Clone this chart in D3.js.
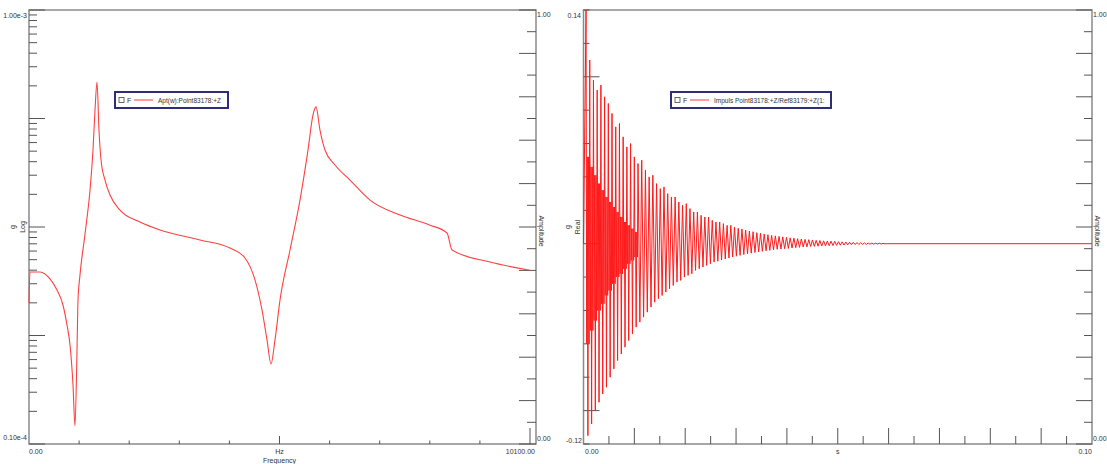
<!DOCTYPE html>
<html>
<head>
<meta charset="utf-8">
<script src="https://cdn.jsdelivr.net/npm/d3@7"></script>
<style>
  body { margin: 0; background: #fff; }
  text { font-family: "Liberation Sans", Arial, sans-serif; font-size: 7px; fill: #333; }
</style>
</head>
<body>
<div id="chart"></div>
<script>
const width = 1107, height = 464;

// FRF amplitude (left panel)
const freqHz = [0, 20, 222, 423, 564, 685, 766, 827, 887, 927, 968, 988, 1028, 1129, 1230, 1290, 1331, 1371, 1411, 1452, 1532, 1633, 1835, 2238, 2641, 3447, 4052, 4355, 4556, 4697, 4798, 4879, 4959, 5060, 5262, 5463, 5625, 5725, 5786, 5866, 5967, 6169, 6471, 6875, 7479, 8084, 8427, 8528, 9294, 10100];
const aptAmp = [2.0e-6, 3.85e-6, 3.85e-6, 3.32e-6, 2.62e-6, 1.91e-6, 1.25e-6, 8.17e-7, 3.5e-7, 1.47e-7, 7.4e-7, 2.12e-6, 3.6e-6, 8.6e-6, 2.19e-5, 5.13e-5, 1.20e-4, 2.17e-4, 7.83e-5, 4.15e-5, 2.71e-5, 1.97e-5, 1.43e-5, 1.11e-5, 9.38e-6, 7.6e-6, 6.40e-6, 5.18e-6, 3.25e-6, 1.72e-6, 9.1e-7, 5.46e-7, 9.1e-7, 2.12e-6, 6.14e-6, 1.77e-5, 5.13e-5, 1.08e-4, 1.28e-4, 7.83e-5, 5.13e-5, 3.73e-5, 2.71e-5, 1.77e-5, 1.29e-5, 1.04e-5, 8.8e-6, 6.14e-6, 4.75e-6, 4.0e-6];

// impulse response (right panel): peak / trough of each cycle, g
const impulseStart = 0.0005; // s
const cyclePeriod = 0.00073; // s
const impulseHigh = [0.140, 0.110, 0.098, 0.092, 0.095, 0.088, 0.084, 0.078, 0.070, 0.072, 0.064, 0.058, 0.060, 0.052, 0.048, 0.050, 0.044, 0.040, 0.041, 0.036, 0.033, 0.034, 0.030, 0.028, 0.028, 0.025, 0.023, 0.024, 0.021, 0.019, 0.019, 0.017, 0.016, 0.016, 0.014, 0.013, 0.013, 0.012, 0.011, 0.011, 0.010, 0.0092, 0.0088, 0.0082, 0.0076, 0.0072, 0.0066, 0.0062, 0.0058, 0.0054, 0.0050, 0.0047, 0.0044, 0.0041, 0.0038, 0.0035, 0.0033, 0.0030, 0.0028, 0.0026, 0.0024, 0.0022, 0.0020, 0.0019, 0.0017, 0.0016, 0.0015, 0.0014, 0.0012, 0.0011, 0.0010, 0.0009, 0.0008, 0.0007, 0.0006, 0.0005, 0.0004, 0.0004, 0.0003, 0.0003, 0.0002];
const impulseLow = [-0.115, -0.108, -0.100, -0.095, -0.090, -0.086, -0.080, -0.075, -0.070, -0.066, -0.062, -0.058, -0.054, -0.050, -0.047, -0.044, -0.041, -0.038, -0.035, -0.033, -0.031, -0.029, -0.027, -0.025, -0.023, -0.022, -0.020, -0.019, -0.018, -0.016, -0.015, -0.014, -0.013, -0.012, -0.011, -0.0105, -0.0098, -0.0092, -0.0086, -0.0080, -0.0075, -0.0070, -0.0065, -0.0061, -0.0057, -0.0053, -0.0049, -0.0046, -0.0043, -0.0040, -0.0037, -0.0034, -0.0032, -0.0030, -0.0028, -0.0026, -0.0024, -0.0022, -0.0020, -0.0019, -0.0017, -0.0016, -0.0015, -0.0014, -0.0013, -0.0012, -0.0011, -0.0010, -0.0009, -0.0008, -0.0007, -0.0006, -0.0005, -0.0005, -0.0004, -0.0004, -0.0003, -0.0003, -0.0002, -0.0002, -0.0001];
// faster second-mode wiggles inside the first cycles (dense part near t = 0)
const impulseMidDown = [-0.060, -0.052, -0.046, -0.040, -0.036, -0.031, -0.028, -0.024, -0.020, -0.018, -0.015, -0.012, -0.010, -0.008];
const impulseMidUp = [0.052, 0.046, 0.041, 0.036, 0.032, 0.028, 0.025, 0.022, 0.019, 0.016, 0.013, 0.011, 0.009, 0.007];
const timeEnd = 0.1;

const legendLeft = "Apt(w):Point83178:+Z";
const legendRight = "Impuls Point83178:+Z/Ref83179:+Z(1:";

const svg = d3.select("#chart").append("svg").attr("width", width).attr("height", height);

const plotTop = 10, plotBottom = 444;
const axisColor = "#8a8a8a", tickColor = "#555";

// scales
const xF = d3.scaleLinear().domain([0, 10100]).range([29, 530]);
const yL = d3.scaleLog().domain([1e-7, 1e-3]).range([plotBottom, plotTop]);
const xT = d3.scaleLinear().domain([0, 0.1]).range([583.5, 1092]);
const yR = d3.scaleLinear().domain([-0.12, 0.14]).range([plotBottom, plotTop]);
const yA = d3.scaleLinear().domain([0, 1]).range([plotBottom, plotTop]);

function frame(x0, x1) {
    svg.append("rect")
        .attr("x", x0).attr("y", plotTop)
        .attr("width", x1 - x0).attr("height", plotBottom - plotTop)
        .attr("fill", "none").attr("stroke", axisColor).attr("stroke-width", 1.5);
}

function tick(x1, y1, x2, y2) {
    svg.append("line")
        .attr("x1", x1).attr("y1", y1).attr("x2", x2).attr("y2", y2)
        .attr("stroke", tickColor).attr("stroke-width", 1);
}

function label(x, y, txt, anchor, rot) {
    const t = svg.append("text").attr("text-anchor", anchor || "start").text(txt);
    if (rot) t.attr("transform", `translate(${x},${y}) rotate(${rot})`);
    else t.attr("x", x).attr("y", y);
    return t;
}

// ---------- left panel ----------
frame(29, 536);

// log ticks on left axis
yL.ticks().forEach(v => {
    const decade = Math.abs(Math.log10(v) - Math.round(Math.log10(v))) < 1e-9;
    tick(29, yL(v), 29 + (decade ? 16 : 8), yL(v));
});

// amplitude (right) axis ticks
d3.range(0, 21).forEach(i => {
    const v = i / 20;
    tick(536, yA(v), 536 - (i % 2 === 0 ? 17 : 9), yA(v));
});

// frequency ticks
d3.range(1, 11).forEach(i => {
    const v = i * 1010;
    const len = (i === 5 || i === 10) ? (i === 10 ? 16 : 8) : 3.5;
    tick(xF(v), plotBottom, xF(v), plotBottom - len);
});

label(27, 18, "1.00e-3", "end");
label(27, 440, "0.10e-4", "end");
label(15, 227, "g", "middle", -90);
label(25, 227, "Log", "middle", -90);
label(537, 17, "1.00");
label(537, 441, "0.00");
label(539, 231, "Amplitude", "middle", 90);
label(29, 454, "0.00");
label(xF(5050), 454, "Hz", "middle");
label(xF(5050), 463, "Frequency", "middle");
label(535, 454, "10100.00", "end");

const lineL = d3.line().curve(d3.curveMonotoneX).x(d => xF(d[0])).y(d => yL(d[1]));
svg.append("path")
    .datum(freqHz.map((f, i) => [f, aptAmp[i]]))
    .attr("d", lineL)
    .attr("fill", "none").attr("stroke", "#ff4040").attr("stroke-width", 1.1);

// ---------- right panel ----------
frame(583.5, 1092);

d3.range(-0.12, 0.1401, 0.02).forEach(v => {
    const long = Math.abs(Math.round(v * 10) - v * 10) < 1e-6;
    tick(583.5, yR(v), 583.5 + (long ? 16 : 6), yR(v));
});

d3.range(0, 21).forEach(i => {
    const v = i / 20;
    tick(1092, yA(v), 1092 - (i % 2 === 0 ? 16 : 8), yA(v));
});

d3.range(1, 20).forEach(i => {
    const v = i * 0.005;
    tick(xT(v), plotBottom, xT(v), plotBottom - (i % 2 === 0 ? 16 : 8));
});

label(581, 18, "0.14", "end");
label(582, 443, "-0.12", "end");
label(570, 227, "g", "middle", -90);
label(580, 227, "Real", "middle", -90);
label(585, 454, "0.00");
label(xT(0.05), 454, "s", "middle");
label(1092, 454, "0.10", "end");
label(1093, 17, "1.00");
label(1093, 441, "0.00");
label(1095, 231, "Amplitude", "middle", 90);

const impulse = [[0, 0]];
impulseHigh.forEach((h, i) => {
    const t0 = impulseStart + i * cyclePeriod;
    impulse.push([t0, h]);
    if (i < impulseMidDown.length) {
        impulse.push([t0 + cyclePeriod * 0.17, impulseMidDown[i]]);
        impulse.push([t0 + cyclePeriod * 0.33, impulseMidUp[i]]);
    }
    impulse.push([t0 + cyclePeriod * 0.5, impulseLow[i]]);
    if (i < impulseMidDown.length) {
        impulse.push([t0 + cyclePeriod * 0.67, impulseMidUp[i]]);
        impulse.push([t0 + cyclePeriod * 0.83, impulseMidDown[i]]);
    }
});
impulse.push([impulseStart + impulseHigh.length * cyclePeriod, 0]);
impulse.push([timeEnd, 0]);

const lineR = d3.line().x(d => xT(d[0])).y(d => yR(d[1]));
svg.append("path")
    .datum(impulse)
    .attr("d", lineR)
    .attr("fill", "none").attr("stroke", "#ff1a1a").attr("stroke-width", 1);

// ---------- legends ----------
function legend(x, y, w, txt) {
    const g = svg.append("g").attr("transform", `translate(${x},${y})`);
    g.append("rect").attr("width", w).attr("height", 16)
        .attr("fill", "#fff").attr("stroke", "#2e2e78").attr("stroke-width", 2);
    g.append("rect").attr("x", 4).attr("y", 5.5).attr("width", 5).attr("height", 5)
        .attr("fill", "none").attr("stroke", "#444").attr("stroke-width", 0.8);
    g.append("text").attr("x", 12).attr("y", 10.5).text("F");
    g.append("line").attr("x1", 19).attr("x2", 38).attr("y1", 8).attr("y2", 8)
        .attr("stroke", "#ff3838").attr("stroke-width", 1);
    g.append("text").attr("x", 43).attr("y", 10.5).style("font-size", "6.5px").text(txt);
}
legend(115, 92, 113, legendLeft);
legend(671, 92, 160, legendRight);
</script>
</body>
</html>
